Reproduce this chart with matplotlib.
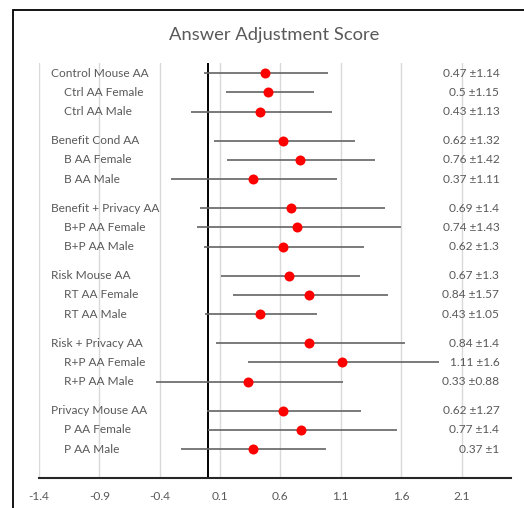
import numpy as np
import matplotlib
matplotlib.use('Agg')
import matplotlib.pyplot as plt
from matplotlib.patches import Rectangle

plt.rcParams['font.family'] = ['Lato', 'DejaVu Sans']

# etiquetas de cada fila (3 por grupo)
etiquetas = ['Control Mouse AA', 'Ctrl AA Female', 'Ctrl AA Male',
             'Benefit Cond AA', 'B AA Female', 'B AA Male',
             'Benefit + Privacy AA', 'B+P AA Female', 'B+P AA Male',
             'Risk Mouse AA', 'RT AA Female', 'RT AA Male',
             'Risk + Privacy AA', 'R+P AA Female', 'R+P AA Male',
             'Privacy Mouse AA', 'P AA Female', 'P AA Male']
medias = [0.47, 0.5, 0.43, 0.62, 0.76, 0.37, 0.69, 0.74, 0.62,
          0.67, 0.84, 0.43, 0.84, 1.11, 0.33, 0.62, 0.77, 0.37]
desv = [1.14, 1.15, 1.13, 1.32, 1.42, 1.11, 1.4, 1.43, 1.3,
        1.3, 1.57, 1.05, 1.4, 1.6, 0.88, 1.27, 1.4, 1]
# extremos de las barras
inferior = [-0.03, 0.15, -0.14, 0.05, 0.155, -0.31, -0.065, -0.09, -0.03,
            0.11, 0.21, -0.025, 0.07, 0.335, -0.43, -0.01, 0.0, -0.225]
superior = [0.99, 0.875, 1.025, 1.215, 1.38, 1.065, 1.47, 1.595, 1.295,
            1.255, 1.495, 0.9, 1.635, 1.915, 1.115, 1.27, 1.565, 0.975]
ticks = [-1.4, -0.9, -0.4, 0.1, 0.6, 1.1, 1.6, 2.1]

gris = '#595959'
n = len(etiquetas)
idx = np.arange(n)
y = (idx // 3) * 3.5 + idx % 3

W, H = 524, 508
fig = plt.figure(figsize=(W / 100, H / 100), dpi=100)
ax = fig.add_axes([39 / W, 1 - 478 / H, (511 - 39) / W, (478 - 63) / H])

ax.hlines(y, inferior, superior, color='#646464', lw=1.2, zorder=3)
ax.plot(medias, y, 'o', color='#ff0000', ms=7.2, mec='none', zorder=4)
ax.axvline(0, color='black', lw=1.4, zorder=2)

for i in range(n):
    xl = -1.30 if i % 3 == 0 else -1.19
    ax.text(xl, y[i], etiquetas[i], ha='left', va='center', fontsize=8.6, color=gris)
    ax.text(2.413, y[i], f'{medias[i]:g} \u00b1{desv[i]:g}', ha='right', va='center',
            fontsize=8.6, color=gris)

ax.set_xlim(-1.4, 2.51)
ax.set_ylim(21.0, -0.53)
ax.set_xticks(ticks)
ax.set_xticklabels([f'{t:.1f}' for t in ticks], fontsize=8.6, color=gris)
ax.set_yticks([])
ax.tick_params(axis='x', length=0, pad=9)
ax.grid(axis='x', color='#d9d9d9', lw=1.0, zorder=0)
ax.set_axisbelow(True)
for s in ['left', 'top', 'right']:
    ax.spines[s].set_visible(False)
ax.spines['bottom'].set_color('#262626')
ax.spines['bottom'].set_linewidth(1.5)

fig.text(274 / W, 1 - 35 / H, 'Answer Adjustment Score', ha='center', va='center',
         fontsize=13.2, color=gris)

# marco del area del grafico
fig.add_artist(Rectangle((13 / W, -0.1), 1.2, 1.1 - 10 / H, transform=fig.transFigure,
                         fill=False, ec='black', lw=1.3))

fig.savefig('out.png', dpi=100)
